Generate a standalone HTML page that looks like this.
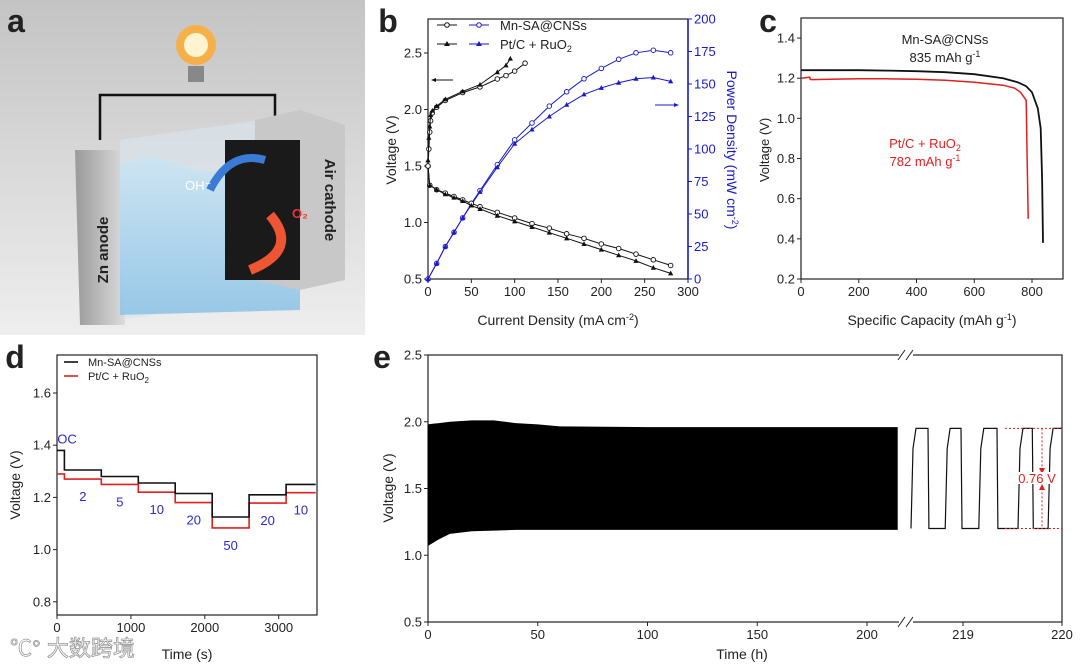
<!DOCTYPE html>
<html><head><meta charset="utf-8">
<style>
html,body{margin:0;padding:0;background:#fff;}
svg{display:block;font-family:"Liberation Sans","Noto Sans CJK SC",sans-serif;}
</style></head>
<body>
<svg id="fig" width="1080" height="667" viewBox="0 0 1080 667" xmlns="http://www.w3.org/2000/svg">
<defs>
<linearGradient id="bgA" x1="0" y1="0" x2="0" y2="1"><stop offset="0" stop-color="#c4c4c4"/><stop offset="1" stop-color="#eeeeee"/></linearGradient>
<linearGradient id="water" x1="0" y1="0" x2="0" y2="1"><stop offset="0" stop-color="#cfe6f3"/><stop offset="1" stop-color="#93c6e6"/></linearGradient>
<linearGradient id="plate" x1="0" y1="0" x2="1" y2="0"><stop offset="0" stop-color="#9a9a9a"/><stop offset="1" stop-color="#dcdcdc"/></linearGradient>
</defs>
<g>
<rect x="0" y="0" width="365" height="335" fill="url(#bgA)"/>
<path d="M100 140 L100 95 L275 95 L275 120" fill="none" stroke="#111" stroke-width="2.5"/>
<circle cx="196" cy="45" r="20" fill="#f5b04a"/>
<circle cx="196" cy="45" r="12" fill="#fff3d0"/>
<rect x="188" y="66" width="16" height="16" fill="#888"/>
<polygon points="120,140 260,120 260,300 120,320" fill="#d8e6ee" opacity="0.6"/>
<polygon points="75,150 120,150 125,325 80,325" fill="url(#plate)"/>
<path d="M120 165 Q150 150 180 165 T240 160 T300 165 L300 310 L120 315 Z" fill="url(#water)" opacity="0.95"/>
<polygon points="255,120 300,110 345,125 345,280 300,290 255,280" fill="#c8c8c8"/>
<rect x="225" y="140" width="75" height="140" fill="#1a1a1a"/>
<path d="M270 215 Q300 250 250 270" stroke="#e53" stroke-width="10" fill="none"/>
<path d="M210 190 Q230 150 265 160" stroke="#3a7bd5" stroke-width="8" fill="none"/>
<text x="108" y="250" font-size="15" font-weight="bold" fill="#222" transform="rotate(-90 108 250)" text-anchor="middle">Zn anode</text>
<text x="325" y="200" font-size="15" font-weight="bold" fill="#222" transform="rotate(90 325 200)" text-anchor="middle">Air cathode</text>
<text x="185" y="190" font-size="13" fill="#fff">OH⁻</text>
<text x="292" y="218" font-size="13" fill="#e33" font-weight="bold">O₂</text>
</g>
<g id="root"></g>
</svg>
<script>
// ---------- DATA ----------
const bDisJ = [0,2,10,20,30,40,50,60,80,100,120,140,160,180,200,220,240,260,280];
const bDisMn = [1.5,1.33,1.29,1.26,1.23,1.20,1.17,1.14,1.09,1.04,0.99,0.95,0.90,0.86,0.81,0.77,0.72,0.67,0.62];
const bDisPt = [1.5,1.33,1.29,1.25,1.22,1.19,1.15,1.12,1.06,1.01,0.96,0.91,0.86,0.81,0.76,0.71,0.66,0.60,0.55];
const bPowJ = [0,10,20,30,40,50,60,80,100,120,140,160,180,200,220,240,260,280];
const bPowMn = [0,12,25,36,47,58,68,88,107,120,133,144,154,162,169,174,176,174];
const bPowPt = [0,12,25,36,47,57,67,86,104,115,125,134,142,147,151,154,155,152];
const bChJMn = [0,1,2,3,5,10,20,40,60,80,90,100,112];
const bChMn = [1.5,1.65,1.8,1.9,1.97,2.02,2.08,2.15,2.2,2.27,2.3,2.34,2.41];
const bChJPt = [0,1,2,3,5,10,20,40,60,80,90,95];
const bChPt = [1.55,1.75,1.85,1.95,1.99,2.03,2.09,2.16,2.22,2.33,2.39,2.45];
const bXTicks = [0,50,100,150,200,250,300];
const bYTicks = [0.5,1.0,1.5,2.0,2.5];
const bPTicks = [0,25,50,75,100,125,150,175,200];
const cCapMn = [0,100,200,300,400,500,600,700,750,780,800,820,830,835,838];
const cVMn = [1.24,1.24,1.24,1.238,1.235,1.23,1.22,1.2,1.18,1.16,1.13,1.05,0.95,0.7,0.38];
const cCapPt = [0,30,32,35,100,200,300,400,500,600,700,740,760,775,780,782,787];
const cVPt = [1.2,1.205,1.195,1.193,1.195,1.197,1.197,1.195,1.19,1.18,1.165,1.15,1.13,1.1,1.09,0.9,0.5];
const cXTicks = [0,200,400,600,800];
const cYTicks = [0.2,0.4,0.6,0.8,1.0,1.2,1.4];
const dStepT = [0,100,600,1100,1600,2100,2600,3100,3500];
const dMn = [1.38,1.305,1.28,1.255,1.215,1.125,1.21,1.25];
const dPt = [1.29,1.27,1.25,1.22,1.18,1.083,1.178,1.218];
const dLabels = ["OC","2","5","10","20","50","20","10"];
const dXTicks = [0,1000,2000,3000];
const dYTicks = [0.8,1.0,1.2,1.4,1.6];
const eT = [0,2,5,10,20,30,40,50,60,100,150,200,214];
const eTop = [1.98,1.985,1.99,2.0,2.01,2.01,1.99,1.98,1.965,1.96,1.96,1.96,1.96];
const eBot = [1.07,1.09,1.12,1.16,1.18,1.185,1.19,1.19,1.19,1.19,1.19,1.19,1.19];
const eRise = [218.475,218.82,219.16,219.556,219.86];
const eDrop = [218.646,218.98,219.343,219.70];
const eHigh = 1.95, eLow = 1.2;
const eXTicksL = [0,50,100,150,200];
const eXTicksR = [219,220];
const eYTicks = [0.5,1.0,1.5,2.0,2.5];

// ---------- HELPERS ----------
const NS = "http://www.w3.org/2000/svg";
const root = document.getElementById('root');
function mk(tag, attrs, name, parent) {
  const el = document.createElementNS(NS, tag);
  for (const k in attrs) el.setAttribute(k, attrs[k]);
  
  
  (parent || root).appendChild(el);
  return el;
}
function txt(x, y, s, name, opts) {
  opts = opts || {};
  const el = mk('text', {x:x, y:y, 'font-size':opts.size||13, fill:opts.fill||'#222', 'text-anchor':opts.anchor||'middle'}, name);
  if (opts.rot) el.setAttribute('transform', 'rotate(' + opts.rot + ' ' + x + ' ' + y + ')');
  if (opts.weight) el.setAttribute('font-weight', opts.weight);
  el.innerHTML = s;
  return el;
}
function poly(xs, ys, fx, fy, name, stroke, w) {
  const pts = xs.map((v,i) => fx(v).toFixed(1) + ',' + fy(ys[i]).toFixed(1)).join(' ');
  return mk('polyline', {points:pts, fill:'none', stroke:stroke, 'stroke-width':w||1.3}, name);
}
function circles(xs, ys, fx, fy, name, col) {
  xs.forEach((v,i) => mk('circle', {cx:fx(v), cy:fy(ys[i]), r:2.3, fill:'#fff', stroke:col, 'stroke-width':0.9}, name));
}
function tris(xs, ys, fx, fy, name, col) {
  xs.forEach((v,i) => { const x=fx(v), y=fy(ys[i]);
    mk('polygon', {points:(x-2.6)+','+(y+2)+' '+(x+2.6)+','+(y+2)+' '+x+','+(y-2.8), fill:col}, name); });
}
function xTicks(vals, fx, yb, name, fs) {
  vals.forEach(v => { mk('line', {x1:fx(v), x2:fx(v), y1:yb, y2:yb+4, stroke:'#222', 'stroke-width':1}, name+'-tick');
    txt(fx(v), yb+17, String(v), name+'-label', {size:fs||13}); });
}
function yTicks(vals, fy, xl, name, fmt, fs, col, right) {
  vals.forEach(v => { const d = right ? 4 : -4;
    mk('line', {x1:xl, x2:xl+d, y1:fy(v), y2:fy(v), stroke:col||'#222', 'stroke-width':1}, name+'-tick');
    txt(right ? xl+6 : xl-6, fy(v)+4.5, fmt(v), name+'-label', {size:fs||13, anchor:right?'start':'end', fill:col||'#222'}); });
}
function box(x1, y1, x2, y2, name) {
  mk('rect', {x:x1, y:y1, width:x2-x1, height:y2-y1, fill:'none', stroke:'#222', 'stroke-width':1.2}, name);
}
const f1 = v => v.toFixed(1);

// ---------- PANEL B ----------
const xb = v => 428 + v/300*260;
const yb = v => 279 - (v-0.5)*113;
const ypb = v => 279 - v/200*260;
box(428, 19, 688, 279, 'panel-b-frame');
mk('line', {x1:688, x2:688, y1:19, y2:279, stroke:'#1a1acc', 'stroke-width':1.5}, 'panel-b-right-axis');
xTicks(bXTicks, xb, 279, 'panel-b-x');
yTicks(bYTicks, yb, 428, 'panel-b-y', f1);
yTicks(bPTicks, ypb, 688, 'panel-b-power', v=>String(v), 13, '#1a1acc', true);
poly(bPowJ, bPowMn, xb, ypb, 'mn-power-line', '#1a1acc', 1);
circles(bPowJ, bPowMn, xb, ypb, 'mn-power-marker', '#1a1acc');
poly(bPowJ, bPowPt, xb, ypb, 'pt-power-line', '#1a1acc', 1);
tris(bPowJ, bPowPt, xb, ypb, 'pt-power-marker', '#1a1acc');
poly(bDisJ, bDisMn, xb, yb, 'mn-discharge-line', '#111', 1);
circles(bDisJ, bDisMn, xb, yb, 'mn-discharge-marker', '#111');
poly(bDisJ, bDisPt, xb, yb, 'pt-discharge-line', '#111', 1);
tris(bDisJ, bDisPt, xb, yb, 'pt-discharge-marker', '#111');
poly(bChJMn, bChMn, xb, yb, 'mn-charge-line', '#111', 1);
circles(bChJMn, bChMn, xb, yb, 'mn-charge-marker', '#111');
poly(bChJPt, bChPt, xb, yb, 'pt-charge-line', '#111', 1);
tris(bChJPt, bChPt, xb, yb, 'pt-charge-marker', '#111');
mk('line', {x1:453, x2:434, y1:80, y2:80, stroke:'#111', 'stroke-width':1}, 'left-axis-arrow');
mk('polygon', {points:'431,80 436,78 436,82', fill:'#111'}, 'left-axis-arrow-head');
mk('line', {x1:655, x2:675, y1:105, y2:105, stroke:'#1a1acc', 'stroke-width':1}, 'right-axis-arrow');
mk('polygon', {points:'679,105 674,103 674,107', fill:'#1a1acc'}, 'right-axis-arrow-head');
mk('line', {x1:437, x2:457, y1:25, y2:25, stroke:'#111'}, 'legend-mn-black-line');
mk('circle', {cx:447, cy:25, r:2.3, fill:'#fff', stroke:'#111'}, 'legend-mn-black-marker');
mk('line', {x1:469, x2:489, y1:25, y2:25, stroke:'#1a1acc'}, 'legend-mn-blue-line');
mk('circle', {cx:479, cy:25, r:2.3, fill:'#fff', stroke:'#1a1acc'}, 'legend-mn-blue-marker');
txt(500, 30, 'Mn-SA@CNSs', 'legend-mn-label', {anchor:'start', size:13});
mk('line', {x1:437, x2:457, y1:44, y2:44, stroke:'#111'}, 'legend-pt-black-line');
mk('polygon', {points:'444,46 450,46 447,41', fill:'#111'}, 'legend-pt-black-marker');
mk('line', {x1:469, x2:489, y1:44, y2:44, stroke:'#1a1acc'}, 'legend-pt-blue-line');
mk('polygon', {points:'476,46 482,46 479,41', fill:'#1a1acc'}, 'legend-pt-blue-marker');
txt(500, 49, 'Pt/C + RuO<tspan font-size="9" dy="3">2</tspan>', 'legend-pt-label', {anchor:'start', size:13});
txt(396, 150, 'Voltage (V)', 'panel-b-y-title', {rot:-90, size:14});
txt(727, 150, 'Power Density (mW cm<tspan font-size="9" dy="-5">-2</tspan><tspan dy="5">)</tspan>', 'panel-b-power-title', {rot:90, size:14, fill:'#1a1acc'});
txt(558, 325, 'Current Density (mA cm<tspan font-size="9" dy="-5">-2</tspan><tspan dy="5">)</tspan>', 'panel-b-x-title', {size:14});

// ---------- PANEL C ----------
const xc = v => 801 + v/800*231;
const yc = v => 279 - (v-0.2)*200.8;
box(801, 18, 1063, 279, 'panel-c-frame');
xTicks(cXTicks, xc, 279, 'panel-c-x');
yTicks(cYTicks, yc, 801, 'panel-c-y', f1);
poly(cCapPt, cVPt, xc, yc, 'pt-discharge-capacity-line', '#e02020', 1.5);
poly(cCapMn, cVMn, xc, yc, 'mn-discharge-capacity-line', '#111', 1.8);
txt(945, 44, 'Mn-SA@CNSs', 'panel-c-mn-label', {size:13});
txt(945, 62, '835 mAh g<tspan font-size="9" dy="-5">-1</tspan>', 'panel-c-mn-capacity', {size:13});
txt(925, 148, 'Pt/C + RuO<tspan font-size="9" dy="3">2</tspan>', 'panel-c-pt-label', {size:13, fill:'#e02020'});
txt(925, 166, '782 mAh g<tspan font-size="9" dy="-5">-1</tspan>', 'panel-c-pt-capacity', {size:13, fill:'#e02020'});
txt(769, 150, 'Voltage (V)', 'panel-c-y-title', {rot:-90, size:13});
txt(932, 325, 'Specific Capacity (mAh g<tspan font-size="9" dy="-5">-1</tspan><tspan dy="5">)</tspan>', 'panel-c-x-title', {size:14});

// ---------- PANEL D ----------
const xd = v => 57 + v/1000*73.9;
const yd = v => 393 + (1.6-v)*261;
box(57, 355, 317, 615, 'panel-d-frame');
xTicks(dXTicks, xd, 615, 'panel-d-x');
yTicks(dYTicks, yd, 57, 'panel-d-y', f1);
function stepPath(vals) {
  let d = '';
  vals.forEach((v,i) => { d += (i===0?'M':'L') + xd(dStepT[i]).toFixed(1) + ' ' + yd(v).toFixed(1) + ' L' + xd(dStepT[i+1]).toFixed(1) + ' ' + yd(v).toFixed(1) + ' '; });
  return d;
}
mk('path', {d:stepPath(dPt), fill:'none', stroke:'#e02020', 'stroke-width':1.6}, 'pt-rate-line');
mk('path', {d:stepPath(dMn), fill:'none', stroke:'#111', 'stroke-width':1.6}, 'mn-rate-line');
dLabels.forEach((s,i) => {
  const mid = i===0 ? xd(0)+10 : (xd(dStepT[i])+xd(dStepT[i+1]))/2;
  const yy = i===0 ? yd(dMn[0])-7 : yd(dPt[i])+22;
  txt(mid, yy, s, 'rate-label', {size:13, fill:'#2a2acc'});
});
mk('line', {x1:64, x2:78, y1:362, y2:362, stroke:'#111', 'stroke-width':1.6}, 'legend-d-mn-line');
txt(88, 366, 'Mn-SA@CNSs', 'legend-d-mn-label', {anchor:'start', size:11});
mk('line', {x1:64, x2:78, y1:376, y2:376, stroke:'#e02020', 'stroke-width':1.6}, 'legend-d-pt-line');
txt(88, 380, 'Pt/C + RuO<tspan font-size="8" dy="3">2</tspan>', 'legend-d-pt-label', {anchor:'start', size:11});
txt(20, 485, 'Voltage (V)', 'panel-d-y-title', {rot:-90, size:14});
txt(187, 659, 'Time (s)', 'panel-d-x-title', {size:14});

// ---------- PANEL E ----------
const xe = v => 428 + v*2.195;
const xr = v => 963 + (v-219)*99;
const ye = v => 622 - (v-0.5)*133.5;
box(428, 355, 1062, 622, 'panel-e-frame');
mk('rect', {x:899, y:350, width:14, height:10, fill:'#fff'}, 'axis-break-gap-top');
mk('rect', {x:899, y:617, width:14, height:10, fill:'#fff'}, 'axis-break-gap-bottom');
[355,622].forEach(yy => { [898,906].forEach(xx => mk('line', {x1:xx, x2:xx+7, y1:yy+5, y2:yy-5, stroke:'#222', 'stroke-width':1}, 'axis-break-mark')); });
xTicks(eXTicksL, xe, 622, 'panel-e-x');
xTicks(eXTicksR, xr, 622, 'panel-e-x-right');
yTicks(eYTicks, ye, 428, 'panel-e-y', f1);
let bandPts = eT.map((t,i) => xe(t).toFixed(1)+','+ye(eTop[i]).toFixed(1));
bandPts = bandPts.concat(eT.slice().reverse().map((t,j) => xe(t).toFixed(1)+','+ye(eBot[eT.length-1-j]).toFixed(1)));
mk('polygon', {points:bandPts.join(' '), fill:'#000'}, 'cycling-band');
let dE = 'M' + xr(eRise[0]).toFixed(1) + ' ' + ye(eLow).toFixed(1);
eRise.forEach((r,i) => {
  dE += ' L' + xr(r+0.02).toFixed(1) + ' ' + ye(eHigh-0.15).toFixed(1) + ' L' + xr(r+0.05).toFixed(1) + ' ' + ye(eHigh).toFixed(1);
  if (i < eDrop.length) {
    dE += ' L' + xr(eDrop[i]).toFixed(1) + ' ' + ye(eHigh).toFixed(1) + ' L' + xr(eDrop[i]+0.01).toFixed(1) + ' ' + ye(eLow).toFixed(1);
    dE += ' L' + xr(eRise[i+1]).toFixed(1) + ' ' + ye(eLow).toFixed(1);
  } else {
    dE += ' L' + xr(220).toFixed(1) + ' ' + ye(eHigh).toFixed(1);
  }
});
mk('path', {d:dE, fill:'none', stroke:'#111', 'stroke-width':1.2}, 'cycling-detail-line');
mk('line', {x1:1005, x2:1062, y1:ye(eHigh), y2:ye(eHigh), stroke:'#e02020', 'stroke-dasharray':'2,2'}, 'gap-upper-dotted');
mk('line', {x1:1005, x2:1062, y1:ye(eLow), y2:ye(eLow), stroke:'#e02020', 'stroke-dasharray':'2,2'}, 'gap-lower-dotted');
mk('line', {x1:1042, x2:1042, y1:ye(eHigh), y2:ye(eLow), stroke:'#e02020', 'stroke-dasharray':'2,2'}, 'gap-vertical-dotted');
mk('polygon', {points:'1039,468 1045,468 1042,474', fill:'#e02020'}, 'gap-arrow-down');
mk('polygon', {points:'1039,490 1045,490 1042,484', fill:'#e02020'}, 'gap-arrow-up');
mk('rect', {x:1016, y:472, width:42, height:12, fill:'#fff'}, 'gap-label-bg');
txt(1037, 483, '0.76 V', 'voltage-gap-label', {size:13, fill:'#e02020'});
txt(393, 488, 'Voltage (V)', 'panel-e-y-title', {rot:-90, size:14});
txt(742, 659, 'Time (h)', 'panel-e-x-title', {size:14});

// ---------- PANEL LETTERS & WATERMARK ----------
txt(16, 32, 'a', 'panel-a-letter', {size:32, weight:'bold'});
txt(388, 32, 'b', 'panel-b-letter', {size:32, weight:'bold'});
txt(768, 32, 'c', 'panel-c-letter', {size:32, weight:'bold'});
txt(15, 368, 'd', 'panel-d-letter', {size:32, weight:'bold'});
txt(382, 368, 'e', 'panel-e-letter', {size:32, weight:'bold'});
const wm = txt(10, 656, '℃° 大数跨境', 'watermark', {anchor:'start', size:22, fill:'#fff'});
wm.setAttribute('stroke', '#999');
wm.setAttribute('stroke-width', '0.8');
</script>
</body></html>
